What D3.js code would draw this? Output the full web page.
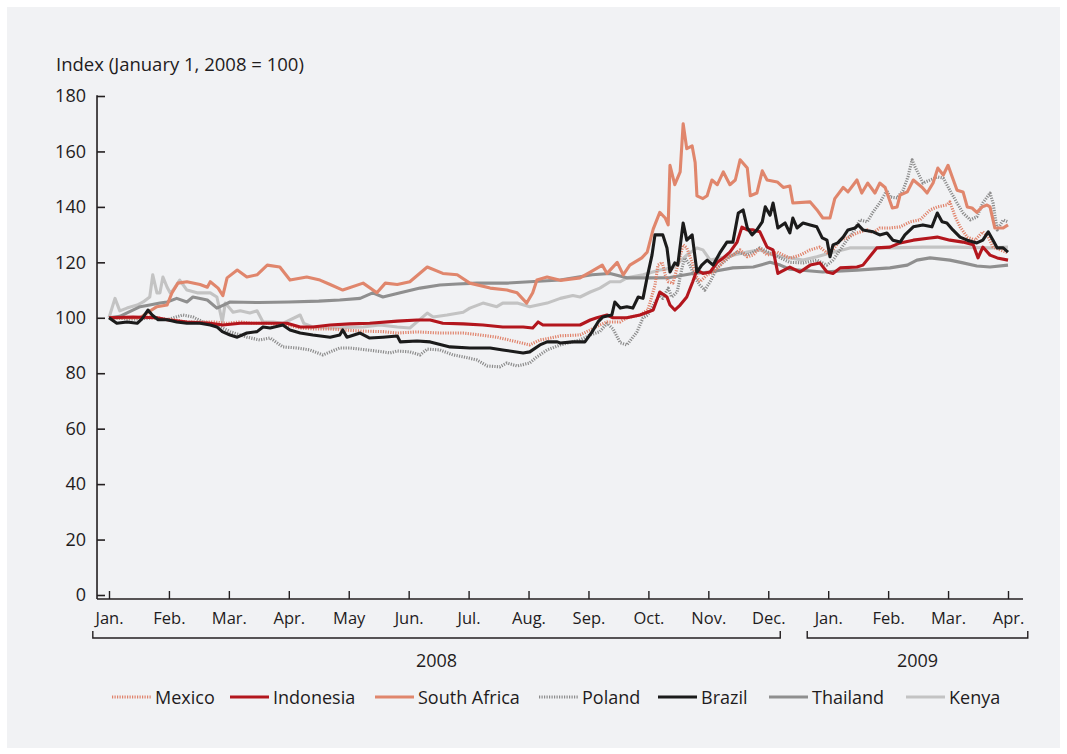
<!DOCTYPE html>
<html>
<head>
<meta charset="utf-8">
<script src="https://cdn.jsdelivr.net/npm/d3@7"></script>
<style>
  html, body { margin: 0; padding: 0; background: #ffffff; }
  svg { display: block; }
  text { font-family: "Open Sans", "Noto Sans", sans-serif; fill: #1f1c1d; }
</style>
</head>
<body>
<svg id="chart" width="1067" height="754"></svg>
<script>
// ---------- DATA ----------
// x = months since January 1, 2008 (0 = Jan 2008, 15 = Apr 2009); value = index (Jan 1, 2008 = 100)
const monthLabels = ["Jan.","Feb.","Mar.","Apr.","May","Jun.","Jul.","Aug.","Sep.","Oct.","Nov.","Dec.","Jan.","Feb.","Mar.","Apr."];
const yTicks = [0,20,40,60,80,100,120,140,160,180];
const years = ["2008","2009"];
const seriesNames = ["Mexico","Indonesia","South Africa","Poland","Brazil","Thailand","Kenya"];

const mexico = [[0,100],[0.4,100],[0.68,100.3],[0.85,99.6],[1.07,99.3],[1.3,98.5],[1.52,98.5],[1.74,98.5],[1.97,98],[2.19,98.5],[2.4,98],[2.64,98],[2.97,97.4],[3.19,96.3],[3.4,96],[3.69,96],[3.9,95.6],[4.24,95.2],[4.57,95],[4.81,94.5],[5.14,94.9],[5.52,94.5],[5.91,94.5],[6.19,93.8],[6.47,93],[6.81,91.3],[7.02,90.2],[7.19,92],[7.36,92.7],[7.53,93.5],[7.86,93.8],[8.03,95.6],[8.19,97.4],[8.31,98.5],[8.53,98.5],[8.64,100],[8.86,101],[8.99,102.8],[9.03,105.7],[9.11,111.8],[9.16,119],[9.23,120],[9.28,115.5],[9.33,113],[9.41,112.5],[9.49,119],[9.58,126.3],[9.64,125.2],[9.73,120],[9.78,115.5],[9.86,113],[9.98,115.5],[10.08,116.5],[10.2,119],[10.31,121.6],[10.41,122.6],[10.53,124.5],[10.65,122],[10.75,122.6],[10.86,125.2],[10.98,122.6],[11.15,123.7],[11.36,121.5],[11.53,122.6],[11.7,124.5],[11.86,125.5],[11.98,123.4],[12.08,124.5],[12.2,128],[12.31,128.8],[12.48,130.6],[12.65,131.7],[12.75,130.6],[12.86,132.4],[13.03,132.4],[13.2,132.8],[13.37,134.6],[13.53,135.3],[13.7,138.9],[13.82,140],[13.98,140.7],[14.03,141.8],[14.12,136.4],[14.2,132.8],[14.32,129.1],[14.45,128],[14.58,131],[14.67,129.1],[14.75,125.5],[14.87,124.5],[15,123.4]];

const indonesia = [[0,100],[0.4,100.3],[0.8,100],[0.97,99.3],[1.3,98.5],[1.69,98],[1.9,97.4],[2.19,98],[2.52,98],[2.97,98],[3.19,96.7],[3.4,96.7],[3.69,97.4],[4.02,97.8],[4.35,98],[4.81,98.8],[5.14,99.2],[5.36,99.2],[5.57,98],[5.91,97.8],[6.24,97.4],[6.57,96.7],[6.91,96.7],[7.07,96.3],[7.16,98.5],[7.24,97.4],[7.53,97.4],[7.86,97.4],[8.03,99.2],[8.14,100],[8.31,101],[8.41,100],[8.64,100],[8.86,101],[9.08,102.8],[9.19,109.3],[9.31,107.5],[9.36,104.6],[9.44,102.8],[9.53,104.6],[9.64,107.5],[9.74,113],[9.81,117.2],[9.91,116],[10.03,116.5],[10.15,120],[10.25,121.6],[10.36,123.7],[10.48,127.3],[10.56,132.7],[10.65,131.7],[10.75,131.7],[10.86,131],[10.98,125.5],[11.08,124.5],[11.16,116],[11.36,118.3],[11.53,116.5],[11.7,119],[11.86,119.8],[11.98,116.5],[12.08,116],[12.2,118],[12.48,118.3],[12.58,119],[12.81,125.2],[13.03,125.5],[13.2,127],[13.42,128],[13.7,128.8],[13.82,129.1],[14.03,128],[14.25,127.3],[14.42,126.3],[14.5,121.6],[14.58,125.5],[14.7,122.6],[14.82,121.6],[15,120.8]];

const southAfrica = [[0,100],[0.25,100],[0.52,100],[0.65,102],[0.8,104],[0.97,104.6],[1.05,109],[1.15,112.5],[1.3,113],[1.52,112],[1.64,111],[1.69,113],[1.82,110.7],[1.9,108],[1.97,114.4],[2.14,117.2],[2.3,114.7],[2.47,115.5],[2.64,119],[2.85,118.3],[3.02,113.6],[3.3,114.7],[3.52,113.6],[3.69,112],[3.9,110],[4.24,112.5],[4.47,109],[4.61,112.5],[4.81,112],[5.02,113],[5.31,118.3],[5.57,116],[5.81,115.5],[6.02,112.5],[6.36,110.7],[6.64,110],[6.81,109],[6.97,105.3],[7.07,109],[7.14,113.6],[7.31,114.7],[7.53,113.5],[7.86,114.4],[8.03,116.5],[8.23,119],[8.31,116],[8.48,120],[8.58,115.5],[8.69,119],[8.89,121.6],[8.98,123.7],[9.08,132],[9.19,138],[9.28,136],[9.33,133.5],[9.36,155],[9.44,148],[9.53,152.6],[9.58,170],[9.64,161],[9.73,162],[9.78,156],[9.81,144],[9.91,143],[9.98,144],[10.06,149.7],[10.15,148],[10.25,152.6],[10.36,148],[10.45,149.7],[10.53,157],[10.65,154],[10.7,144],[10.81,145],[10.9,153],[10.98,149.7],[11.15,149],[11.25,147],[11.36,147.5],[11.41,141.4],[11.7,141.8],[11.81,139],[11.91,136],[12.03,136],[12.11,143],[12.25,147],[12.33,145.4],[12.48,149.7],[12.56,145],[12.66,148.6],[12.78,145],[12.86,148.6],[12.95,147],[13.07,139.6],[13.15,140],[13.2,144.3],[13.32,145.4],[13.42,149.7],[13.57,147],[13.65,145],[13.75,148.6],[13.83,154],[13.92,151.5],[14,155],[14.07,150.8],[14.15,146],[14.25,145.4],[14.32,140],[14.4,139.6],[14.48,138],[14.57,140],[14.65,140.7],[14.7,140],[14.78,132.4],[14.92,132.4],[15,133.5]];

const poland = [[0,100],[0.4,99.5],[0.8,100],[0.97,99.3],[1.23,101],[1.4,100.3],[1.57,98.5],[1.8,97.4],[2.02,95],[2.3,93],[2.52,92],[2.69,92.7],[2.9,89.5],[3.14,89.1],[3.35,88.4],[3.57,86.6],[3.69,87.7],[3.85,89.1],[4.02,89.1],[4.31,88.4],[4.57,87.7],[4.69,87.3],[4.81,88],[5.02,87.7],[5.19,86.6],[5.31,88.7],[5.52,88.4],[5.74,86.6],[5.91,85.9],[6.14,84.8],[6.31,82.6],[6.52,82.3],[6.64,83.7],[6.81,82.6],[7.02,83.7],[7.14,85.9],[7.31,88.4],[7.53,90.2],[7.86,92],[8.03,93.8],[8.19,95],[8.31,98],[8.41,96],[8.53,91],[8.64,90.2],[8.81,94.9],[8.91,100],[8.99,101],[9.11,105.7],[9.19,108],[9.24,107],[9.33,110.7],[9.39,107.5],[9.48,109.3],[9.56,118],[9.61,121.6],[9.69,119],[9.78,114.4],[9.86,111.8],[9.94,110],[10.03,113],[10.15,118],[10.25,120],[10.36,122],[10.48,123.7],[10.65,122.6],[10.75,123.7],[10.86,125.2],[11.03,123.4],[11.2,121.6],[11.36,120],[11.58,119.8],[11.81,120.8],[11.98,119],[12.08,120.8],[12.2,124.5],[12.31,128],[12.41,130.6],[12.53,135.3],[12.65,134.6],[12.75,138.2],[12.86,141.4],[12.98,146],[13.03,143.6],[13.15,143.2],[13.25,146],[13.33,150.8],[13.4,157],[13.45,154.4],[13.5,152.2],[13.58,148.6],[13.7,149.7],[13.82,150.8],[13.92,150.4],[14.03,146],[14.15,141.4],[14.25,137.8],[14.37,135.3],[14.48,136.4],[14.58,141.4],[14.7,145],[14.75,141.4],[14.82,131.7],[14.92,135.3],[15,134.6]];

const brazil = [[0,100],[0.13,98],[0.3,98.5],[0.47,98],[0.55,99.6],[0.65,102.8],[0.72,101],[0.82,99.3],[0.97,99.3],[1.13,98.5],[1.3,98],[1.52,98],[1.69,97.4],[1.8,96.7],[1.89,95],[2.02,93.8],[2.14,93],[2.3,94.5],[2.47,95],[2.57,96.7],[2.69,96.3],[2.9,97.4],[3.02,95.6],[3.19,94.5],[3.4,93.8],[3.69,93],[3.85,93.8],[3.9,95.6],[3.97,93],[4.19,94.5],[4.35,92.7],[4.57,93],[4.81,93.4],[4.86,91.3],[5.14,91.6],[5.36,91.3],[5.69,89.5],[6.02,89.1],[6.36,89.1],[6.57,88.4],[6.91,87.3],[7.02,87.7],[7.19,90.2],[7.31,91.3],[7.48,91.3],[7.53,90.9],[7.74,91.3],[7.94,91.3],[8.06,94.9],[8.16,98.5],[8.24,100.3],[8.39,101],[8.44,105.7],[8.53,103.5],[8.64,104],[8.74,103.5],[8.83,107.5],[8.91,107],[8.98,114.7],[9.06,122.6],[9.11,129.9],[9.24,129.9],[9.31,125.2],[9.36,116.5],[9.44,119.8],[9.49,119],[9.58,134.2],[9.64,128],[9.73,129.9],[9.81,116.5],[9.89,119],[9.98,120.8],[10.08,119],[10.2,123.7],[10.31,127.3],[10.41,127.3],[10.5,137.8],[10.58,138.9],[10.65,132.4],[10.73,129.9],[10.81,131.7],[10.9,134.6],[10.95,140],[11.03,137],[11.08,141.4],[11.16,132.4],[11.28,134.2],[11.36,130.6],[11.41,136],[11.48,132.4],[11.58,134.2],[11.7,133.5],[11.81,132.8],[11.9,128.8],[11.98,128],[12.03,122],[12.08,126.3],[12.16,127],[12.25,129.1],[12.33,131.7],[12.45,132.4],[12.5,133.5],[12.58,131.7],[12.75,131],[12.86,129.9],[12.98,130.6],[13.08,128],[13.2,127.3],[13.28,129.9],[13.42,132.8],[13.58,133.5],[13.73,132.8],[13.82,137.8],[13.9,134.6],[13.98,134.2],[14.08,131.7],[14.2,129.1],[14.32,128],[14.48,127],[14.58,128],[14.67,131],[14.75,128],[14.82,125.2],[14.92,125.2],[15,123.7]];

const thailand = [[0,100],[0.18,100.5],[0.52,104],[0.68,104.6],[0.85,105.3],[0.97,105.7],[1.13,107],[1.3,105.7],[1.4,107.5],[1.64,106.4],[1.8,103.5],[1.9,104.5],[2.02,105.7],[2.5,105.5],[3.0,105.7],[3.5,106],[3.85,106.4],[4.19,107],[4.4,109],[4.57,107.5],[4.86,109],[5.19,110.7],[5.52,111.8],[5.81,112.2],[6.14,112.5],[6.64,112.5],[7.02,113],[7.53,113.6],[8.06,115.5],[8.36,116],[8.64,114.4],[9.03,114.4],[9.36,114.5],[9.74,116],[10.03,116.5],[10.41,118],[10.75,118.3],[11.03,120],[11.2,119],[11.36,117.5],[11.91,116.5],[12.48,117.2],[13.03,118],[13.32,119],[13.48,120.8],[13.7,121.6],[14.03,120.8],[14.25,119.8],[14.48,118.7],[14.7,118.3],[15,119]];

const kenya = [[0,100],[0.1,107],[0.18,102.5],[0.3,103.5],[0.47,104.6],[0.57,105.7],[0.68,107.5],[0.73,115.5],[0.8,109],[0.85,109],[0.9,114.7],[0.97,111],[1.02,109],[1.07,110],[1.18,113.6],[1.3,110],[1.47,109],[1.69,109],[1.8,107.5],[1.89,98.5],[1.94,105.3],[2.07,102],[2.19,102.5],[2.35,101.7],[2.47,102.5],[2.57,98.5],[2.74,98.5],[2.9,98],[3.19,101],[3.25,98],[3.4,96.7],[3.69,96.3],[4.24,96.7],[4.52,97.4],[4.81,96.7],[5.02,96.3],[5.14,98.5],[5.31,101.7],[5.41,100.3],[5.64,101],[5.91,102],[6.02,103.5],[6.24,105.3],[6.47,104],[6.57,105.3],[6.81,105.3],[7.02,104],[7.31,105.3],[7.53,107],[7.74,108],[7.86,107.5],[8.03,109.3],[8.19,110.7],[8.36,113],[8.53,113],[8.64,114.4],[8.91,115.5],[9.19,117.2],[9.41,118],[9.64,122.6],[9.81,125.2],[9.91,124.5],[10.03,120.8],[10.2,121.6],[10.41,122.6],[10.65,123.7],[10.86,124.5],[11.08,122.6],[11.36,121.6],[11.58,120.8],[11.81,122],[12.03,123.4],[12.25,124.5],[12.36,125.2],[12.7,125.2],[13.03,125.2],[13.58,125.5],[14.15,125.5],[14.7,125.2],[15,125.5]];

// ---------- STYLE ----------
const styles = {
  "Mexico":       {color: "#e0826a", dash: "1.2 1.3", width: 3.1},
  "Indonesia":    {color: "#b3161d", dash: null,      width: 3.1},
  "South Africa": {color: "#e0866c", dash: null,      width: 3.1},
  "Poland":       {color: "#8c8c8c", dash: "1.2 1.3", width: 3.1},
  "Brazil":       {color: "#1b1b1b", dash: null,      width: 3.1},
  "Thailand":     {color: "#8f8f8f", dash: null,      width: 3.1},
  "Kenya":        {color: "#c3c3c3", dash: null,      width: 3.1}
};
const dataByName = {
  "Mexico": mexico, "Indonesia": indonesia, "South Africa": southAfrica,
  "Poland": poland, "Brazil": brazil, "Thailand": thailand, "Kenya": kenya
};
const drawOrder = ["Kenya","Thailand","Poland","Mexico","South Africa","Indonesia","Brazil"];

// ---------- CHART ----------
const svg = d3.select("#chart");
const axisColor = "#231f20";

svg.append("rect").attr("x", 7).attr("y", 7).attr("width", 1053).attr("height", 741).attr("fill", "#f1f2f4");

const x = d3.scaleLinear().domain([0, 15]).range([109, 1008]);
const y = d3.scaleLinear().domain([0, 180]).range([595, 96]);
const axisY0 = 599; // x-axis baseline sits just below zero

// title
svg.append("text").attr("x", 56).attr("y", 71).style("font-size", "18.5px").text("Index (January 1, 2008 = 100)");

// y axis
const yAxis = d3.axisLeft(y).tickValues(yTicks).tickSizeInner(-8).tickSizeOuter(0).tickPadding(11);
const gy = svg.append("g").attr("transform", `translate(${x(-0.2)},0)`).call(yAxis);
gy.select(".domain").remove();
gy.selectAll(".tick line").attr("stroke", axisColor).attr("stroke-width", 1.6);
gy.selectAll(".tick text").style("font-size", "18px").attr("fill", axisColor).style("font-family", "'Open Sans', sans-serif");
svg.append("line").attr("x1", x(-0.2)).attr("x2", x(-0.2)).attr("y1", y(180) - 0.8).attr("y2", axisY0)
  .attr("stroke", axisColor).attr("stroke-width", 1.6);

// x axis
const xAxis = d3.axisBottom(x).tickValues(d3.range(monthLabels.length)).tickFormat(i => monthLabels[i])
  .tickSizeInner(-8).tickSizeOuter(0).tickPadding(13);
const gx = svg.append("g").attr("transform", `translate(0,${axisY0})`).call(xAxis);
gx.select(".domain").remove();
gx.selectAll(".tick line").attr("stroke", axisColor).attr("stroke-width", 1.4);
gx.selectAll(".tick text").style("font-size", "16.5px").attr("fill", axisColor).style("font-family", "'Open Sans', sans-serif");
svg.append("line").attr("x1", x(-0.2)).attr("x2", x(15.25)).attr("y1", axisY0).attr("y2", axisY0)
  .attr("stroke", axisColor).attr("stroke-width", 1.6);

// year brackets
const brackets = [[-0.27, 11.2], [11.65, 15.33]];
brackets.forEach((b, i) => {
  const x1 = x(b[0]), x2 = x(b[1]), by = 638;
  svg.append("path").attr("d", `M${x1},${by - 7}V${by}H${x2}V${by - 7}`)
    .attr("fill", "none").attr("stroke", axisColor).attr("stroke-width", 1.4);
  svg.append("text").attr("x", (x1 + x2) / 2).attr("y", 667).attr("text-anchor", "middle")
    .style("font-size", "18px").text(years[i]);
});

// lines
const line = d3.line().x(d => x(d[0])).y(d => y(d[1]));
const gl = svg.append("g");
drawOrder.forEach(name => {
  const s = styles[name];
  gl.append("path").datum(dataByName[name]).attr("d", line)
    .attr("fill", "none").attr("stroke", s.color).attr("stroke-width", s.width)
    .attr("stroke-linejoin", "round")
    .attr("stroke-dasharray", s.dash);
});

// legend
const legendPos = [112, 230, 375, 539, 658, 769, 906];
const lg = svg.append("g");
seriesNames.forEach((name, i) => {
  const s = styles[name];
  const lx = legendPos[i];
  lg.append("line").attr("x1", lx).attr("x2", lx + 39).attr("y1", 697).attr("y2", 697)
    .attr("stroke", s.color).attr("stroke-width", 3.2).attr("stroke-dasharray", s.dash);
  lg.append("text").attr("x", lx + 43).attr("y", 703.5).style("font-size", "18px").text(name);
});
</script>
</body>
</html>
